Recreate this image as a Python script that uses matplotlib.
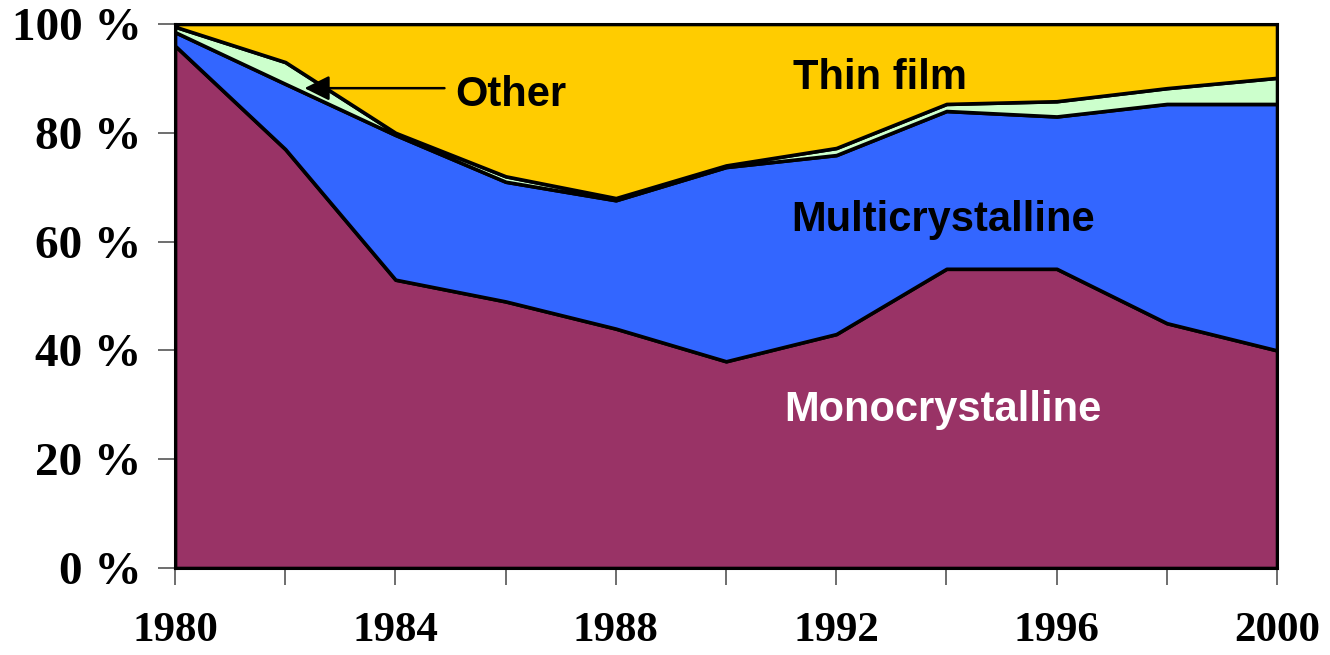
import matplotlib.pyplot as plt

# market share of PV technologies (%)
years = [1980, 1982, 1984, 1986, 1988, 1990, 1992, 1994, 1996, 1998, 2000]
mono = [96, 77, 53, 49, 44, 38, 43, 55, 55, 45, 40]
multi = [2.5, 12, 26.6, 22, 23.6, 35.7, 32.9, 29, 28, 40.3, 45.3]
other = [1, 4, 0.4, 1, 0.4, 0.3, 1.3, 1.3, 2.8, 2.9, 4.8]
thin = [100 - a - b - c for a, b, c in zip(mono, multi, other)]

colores = ["#993366", "#3366FF", "#CCFFCC", "#FFCC00"]

fig = plt.figure(figsize=(13.3, 6.55), dpi=100)
ax = fig.add_axes([0.1316, 0.1328, 0.8286, 0.8306])

ax.stackplot(years, mono, multi, other, thin, colors=colores,
             edgecolor="black", linewidth=2.6)

ax.set_xlim(1980, 2000)
ax.set_ylim(0, 100)
ax.set_xticks(range(1980, 2001, 2))
ax.set_xticklabels([str(y) if (y - 1980) % 4 == 0 else "" for y in range(1980, 2001, 2)])
ax.set_yticks(range(0, 101, 20))
ax.set_yticklabels([f"{v} %" for v in range(0, 101, 20)])

for lab in ax.get_xticklabels():
    lab.set_family("Liberation Serif")
    lab.set_weight("bold")
    lab.set_size(31)
for lab in ax.get_yticklabels():
    lab.set_family("Liberation Serif")
    lab.set_weight("bold")
    lab.set_size(34)
ax.tick_params(axis="x", length=12, width=1.2, color="#555555", pad=20)
ax.tick_params(axis="y", length=12, width=1.2, color="#555555", pad=12)
for s in ax.spines.values():
    s.set_linewidth(2.2)

tfont = dict(family="Liberation Sans", weight="bold", size=30)
ax.text(1992.8, 90.0, "Thin film", ha="center", va="center", color="black", **tfont)
ax.text(1993.94, 64.0, "Multicrystalline", ha="center", va="center", color="black", **tfont)
ax.text(1993.94, 29.0, "Monocrystalline", ha="center", va="center", color="white", **tfont)
ax.text(1985.08, 87.0, "Other", ha="left", va="center", color="black", **tfont)
ax.annotate("", xy=(1982.3, 88.2), xytext=(1984.94, 88.2),
            arrowprops=dict(arrowstyle="-|>", color="black", lw=1.8,
                            mutation_scale=38))

plt.savefig("out.png")
plt.close()
